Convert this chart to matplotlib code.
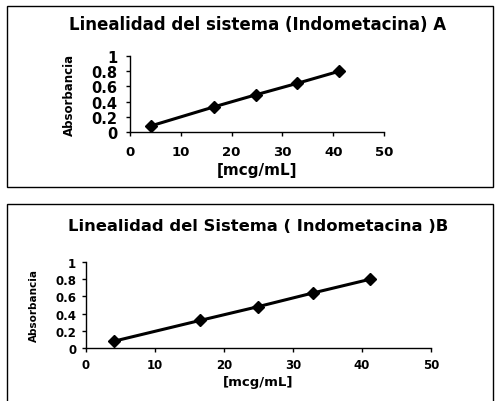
import numpy as np
import matplotlib.pyplot as plt
import matplotlib.transforms as mtransforms
from matplotlib.patches import Rectangle

plt.rcParams['font.family'] = ['DejaVu Sans']
plt.rcParams['font.weight'] = 'bold'

# calibration data, system linearity (indomethacin)
conc_a = [4.1, 16.5, 24.8, 32.9, 41.2]
abs_a = [0.08, 0.33, 0.49, 0.64, 0.80]

conc_b = [4.1, 16.5, 24.9, 32.9, 41.2]
abs_b = [0.08, 0.32, 0.48, 0.64, 0.80]

x_ticks = [0, 10, 20, 30, 40, 50]
y_ticks = [0, 0.2, 0.4, 0.6, 0.8, 1]
y_ticklabels = ['0', '0.2', '0.4', '0.6', '0.8', '1']

W, H = 496, 402
fig = plt.figure(figsize=(W / 100, H / 100), dpi=100)


def frac(x0, y0, x1, y1):
    # pixel box (top-left origin) -> figure fraction rect
    return [x0 / W, 1 - y1 / H, (x1 - x0) / W, (y1 - y0) / H]


def panel(rect, title, conc, absb, title_size, xtick_size, ytick_size, label_size,
          ylab_size, ylab_x, title_y, pad):
    ax = fig.add_axes(rect)
    ax.plot(conc, absb, color='black', lw=2.2, marker='D', ms=6, mfc='black', mec='black')
    ax.set_xlim(0, 50)
    ax.set_ylim(0, 1)
    ax.set_xticks(x_ticks)
    ax.set_yticks(y_ticks)
    ax.set_yticklabels(y_ticklabels)
    for s in ['top', 'right']:
        ax.spines[s].set_visible(False)
    for s in ['left', 'bottom']:
        ax.spines[s].set_linewidth(1.0)
    ax.tick_params(direction='out', length=3, width=1, pad=pad)
    ax.tick_params(axis='x', labelsize=xtick_size)
    ax.tick_params(axis='y', labelsize=ytick_size)
    ax.set_xlabel('[mcg/mL]', fontsize=label_size, fontweight='bold', labelpad=3)
    ax.set_ylabel('Absorbancia', fontsize=ylab_size, fontweight='heavy', va='center')
    tr = mtransforms.blended_transform_factory(fig.transFigure, ax.transAxes)
    ax.yaxis.set_label_coords(ylab_x, 0.5, transform=tr)
    fig.text(0.52, title_y, title, ha='center', va='center',
             fontsize=title_size, fontweight='bold')
    return ax


# frames round each chart
fig.add_artist(Rectangle((7 / W, 1 - 188 / H), 486 / W, 181 / H, transform=fig.transFigure,
                         fill=False, lw=1.0, ec='black'))
fig.add_artist(Rectangle((7 / W, -0.05), 486 / W, 1 - 205 / H + 0.05, transform=fig.transFigure,
                         fill=False, lw=1.0, ec='black'))

ax_a = panel(frac(130, 57, 384, 133), 'Linealidad del sistema (Indometacina) A', conc_a, abs_a,
             title_size=12, xtick_size=9.5, ytick_size=10.5, label_size=11, ylab_size=8.5,
             ylab_x=69 / W, title_y=1 - 25 / H, pad=6)
ax_b = panel(frac(86, 263, 431, 349), 'Linealidad del Sistema ( Indometacina )B', conc_b, abs_b,
             title_size=11.8, xtick_size=8.5, ytick_size=8.5, label_size=9.5, ylab_size=7.5,
             ylab_x=34 / W, title_y=1 - 227 / H, pad=4)

fig.savefig('out.png', dpi=100)
